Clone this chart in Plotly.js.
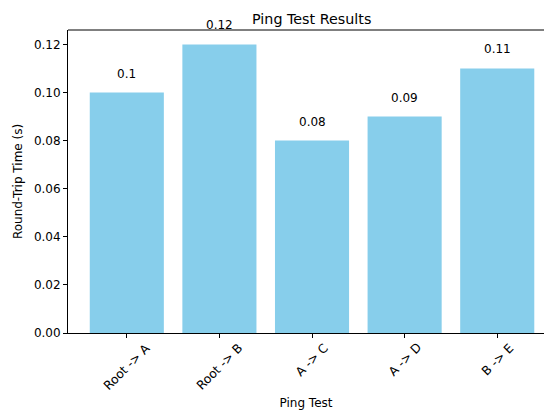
<!DOCTYPE html>
<html>
<head>
<meta charset="utf-8">
<script src="https://cdn.plot.ly/plotly-3.0.1.min.js"></script>
<style>html,body{margin:0;padding:0;background:#fff;}</style>
</head>
<body>
<div id="chart" style="width:544px;height:410px;"></div>
<script>
const categories = ["Root -> A", "Root -> B", "A -> C", "A -> D", "B -> E"];
const rtt = [0.10, 0.12, 0.08, 0.09, 0.11];
const valueLabels = ["0.1", "0.12", "0.08", "0.09", "0.11"];
const yTicks = [0, 0.02, 0.04, 0.06, 0.08, 0.10, 0.12];

const FONT = "DejaVu Sans, sans-serif";
const FS = 12;
const xIdx = categories.map((c, i) => i);

const trace = {
  type: "bar",
  x: xIdx,
  y: rtt,
  width: 0.8,
  marker: {color: "#87CEEB", line: {width: 0}},
  hoverinfo: "skip"
};

const annotations = [];
rtt.forEach((v, i) => {
  annotations.push({
    x: i, y: v + 0.005, xref: "x", yref: "y",
    text: valueLabels[i], showarrow: false,
    xanchor: "center", yanchor: "bottom", yshift: -2,
    font: {family: FONT, size: FS, color: "#000"}
  });
});
categories.forEach((c, i) => {
  annotations.push({
    x: i, y: 0, xref: "x", yref: "y",
    text: c, showarrow: false, textangle: -45,
    xanchor: "center", yanchor: "top", yshift: -5,
    font: {family: FONT, size: 12.3, color: "#000"}
  });
});

const layout = {
  width: 544, height: 410,
  margin: {l: 68, r: 0, t: 30, b: 77, pad: 0},
  paper_bgcolor: "#fff", plot_bgcolor: "#fff",
  font: {family: FONT, size: FS, color: "#000"},
  showlegend: false,
  title: {
    text: "Ping Test Results",
    font: {family: FONT, size: 14.3, color: "#000"},
    xref: "paper", x: 0.512, xanchor: "center",
    yref: "paper", y: 1, yanchor: "bottom", pad: {b: 6}
  },
  xaxis: {
    range: [-0.635, 4.505],
    tickmode: "array", tickvals: xIdx, ticktext: categories,
    showticklabels: false,
    ticks: "outside", ticklen: 4, tickwidth: 1, tickcolor: "#000",
    showline: true, linecolor: "#000", linewidth: 1,
    showgrid: false, zeroline: false,
    title: {text: "Ping Test", font: {family: FONT, size: FS, color: "#000"}, standoff: 62}
  },
  yaxis: {
    range: [0, 0.126],
    tickmode: "array", tickvals: yTicks, tickformat: ".2f",
    ticks: "outside", ticklen: 4, tickwidth: 1, tickcolor: "#000",
    showline: true, linecolor: "#000", linewidth: 1,
    showgrid: false, zeroline: false,
    tickfont: {family: FONT, size: FS, color: "#000"},
    title: {text: "Round-Trip Time (s)", font: {family: FONT, size: FS, color: "#000"}, standoff: 8}
  },
  shapes: [{
    type: "line", xref: "paper", yref: "paper", x0: 0, x1: 1, y0: 1, y1: 1,
    line: {color: "#000", width: 1}
  }],
  annotations: annotations
};

Plotly.newPlot("chart", [trace], layout, {displayModeBar: false, staticPlot: true});
</script>
</body>
</html>
